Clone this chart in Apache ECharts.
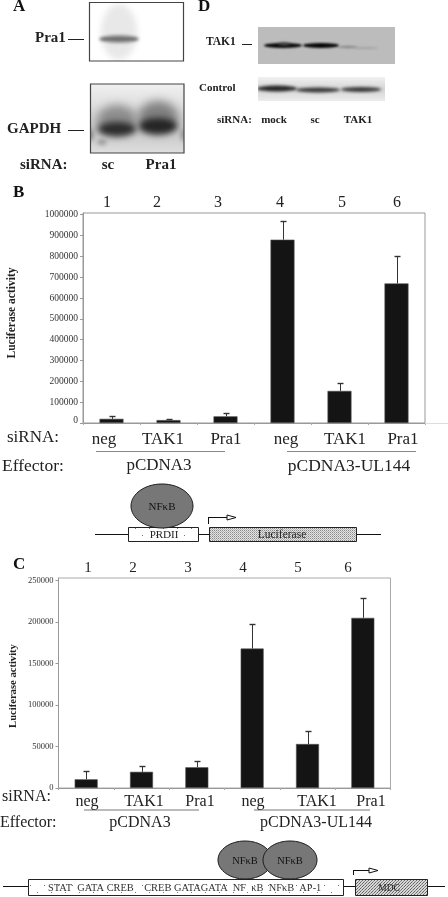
<!DOCTYPE html>
<html><head><meta charset="utf-8">
<style>html,body{margin:0;padding:0;background:#fff}#c{width:448px;height:897px}</style>
<script src="https://cdn.jsdelivr.net/npm/echarts@6/dist/echarts.min.js"></script>
</head><body><div id="c"></div>
<script>
const categories = ['1','2','3','4','5','6'];
const sirna = ['neg','TAK1','Pra1','neg','TAK1','Pra1'];
const valuesB = [20000,14000,32000,880000,154000,670000];
const errTopB = [35000,21000,50000,968000,194000,804000];
const ticksB = [0,100000,200000,300000,400000,500000,600000,700000,800000,900000,1000000];
const valuesC = [10500,19500,25000,168000,53000,205000];
const errTopC = [21000,26500,32000,197000,69000,229000];
const ticksC = [0,50000,100000,150000,200000,250000];

const SERIF = '"Liberation Serif"';
const chart = echarts.init(document.getElementById('c'), null, {renderer:'canvas'});

function pattern(size, draw, bg){
  const c = document.createElement('canvas'); c.width = c.height = size;
  const x = c.getContext('2d'); x.fillStyle = bg; x.fillRect(0,0,size,size); draw(x);
  return {image:c, repeat:'repeat'};
}
const dotted = pattern(2, x=>{x.fillStyle='#8a8a8a';x.fillRect(0,0,1,1);x.fillStyle='#b4b4b4';x.fillRect(1,1,1,1);}, '#e4e4e4');
const hatch = pattern(3, x=>{x.fillStyle='#666';x.fillRect(0,0,1,1);x.fillRect(2,1,1,1);x.fillStyle='#888';x.fillRect(1,2,1,1);}, '#d6d6d6');
const sparse = pattern(14, x=>{x.fillStyle='#777';x.fillRect(2,3,1,1);x.fillRect(9,10,1,1);}, '#ffffff');

// Gel photographs: soft blurred raster patches placed as images
function blot(x,y,w,h,bg,marks,z=10){
  const c=document.createElement('canvas'); c.width=w; c.height=h;
  const g=c.getContext('2d');
  if(Array.isArray(bg)){const lg=g.createLinearGradient(0,0,0,h);bg.forEach(s=>lg.addColorStop(s[0],s[1]));g.fillStyle=lg;}
  else g.fillStyle=bg;
  g.fillRect(0,0,w,h);
  marks.forEach(m=>{
    g.filter=`blur(${m[5]}px)`; g.fillStyle=m[4];
    g.beginPath(); g.ellipse(m[0]-x,m[1]-y,m[2],m[3],0,0,Math.PI*2); g.fill();
  });
  g.filter='none';
  return {type:'image',z,style:{image:c,x,y,width:w,height:h}};
}

const T = (text,x,y,o={}) => ({type:'text',z:o.z||20,x,y,rotation:o.rot||0,style:{
  text,x:0,y:0,fill:o.color||'#222',align:o.align||'left',verticalAlign:'middle',
  font:`${o.bold?'bold ':''}${o.size||13}px ${o.family||SERIF}`}});
const L = (x1,y1,x2,y2,c='#333',w=1,z=15) => ({type:'line',z,shape:{x1,y1,x2,y2},style:{stroke:c,lineWidth:w}});
const R = (x,y,w,h,fill,stroke,o={}) => ({type:'rect',z:o.z||10,shape:{x,y,width:w,height:h},style:{
  fill,stroke:stroke||null,lineWidth:o.lw===undefined?1:o.lw}});
const E = (cx,cy,rx,ry,z=12) => ({type:'ellipse',z,shape:{cx,cy,rx,ry},style:{fill:'#777',stroke:'#1c1c1c',lineWidth:1}});

const numXB=[107,157,218,280,342,397], numXC=[88,133,188,243,298,348];
const sirXB=[104,163,226,286,345,403], sirXC=[87,144,200,253,317,371];

const els = [
  // Panel letters
  T('A',13,7,{bold:1,size:17,color:'#111'}), T('D',198,7,{bold:1,size:17,color:'#111'}),
  T('B',13,193,{bold:1,size:17,color:'#111'}), T('C',13,565,{bold:1,size:17,color:'#111'}),

  // Panel A top blot
  blot(90,3,93,58,'#ffffff',[
    [119,32,18,28,'#e8e8e8',3],
    [119,39,20,4,'#8e8e8e',1.5],
    [119,39,18,1.2,'#666',1]
  ]),
  R(89.5,2.5,94,58.5,'rgba(0,0,0,0)','#444',{z:14,lw:1.2}),
  T('Pra1',35,38,{bold:1,size:15}), L(68,39.5,84,39.5,'#222',1),

  // Panel A bottom blot
  blot(91,84,93,69,[[0,'#f0f0f0'],[.3,'#e0e0e0'],[.65,'#c4c4c4'],[1,'#dedede']],[
    [117,120,20,15,'#8c8c8c',5],
    [158,117,20,16,'#808080',5],
    [117,129,19,7,'#2b2b2b',3],
    [158,126,19,8,'#252525',3],
    [91,135,2,6,'#777',2],[183,135,2,6,'#888',2],
    [102,142,5,3,'#999',2]
  ]),
  R(90.5,84,93.5,69,'rgba(0,0,0,0)','#444',{lw:1.2,z:14}),
  T('GAPDH',7,129,{bold:1,size:15}), L(68,130.5,84,130.5,'#222',1),
  T('siRNA:',20,165,{bold:1,size:15}),
  T('sc',108,165,{bold:1,size:15,align:'center'}), T('Pra1',161,165,{bold:1,size:15,align:'center'}),

  // Panel D blots
  blot(258,27,137,37,'#bcbcbc',[
    [283,45.5,19,2.4,'#060606',1],
    [321,45.5,18,2.4,'#060606',1],
    [284,44,6,1.5,'#555',1.5],
    [348,47,10,1.2,'#888',1],
    [366,48,12,.7,'#9a9a9a',.8]
  ]),
  T('TAK1',206,42,{bold:1,size:11.5}), L(242,44.5,252,44.5,'#222',1),
  blot(258,77,127,24,[[0,'#f1f1f1'],[.5,'#d4d4d4'],[1,'#ececec']],[
    [277,88.5,20,3,'#262626',1.5],
    [318,90,22,2.4,'#3a3a3a',1.5],
    [361,89.5,20,2.4,'#3a3a3a',1.5]
  ]),
  T('Control',199,88,{bold:1,size:11}),
  T('siRNA:',217,120,{bold:1,size:11}),
  T('mock',274,120,{bold:1,size:11,align:'center'}), T('sc',315,120,{bold:1,size:11,align:'center'}), T('TAK1',358,120,{bold:1,size:11,align:'center'}),

  // Panel B annotations
  T('Luciferase activity',12,313,{bold:1,size:11.5,rot:Math.PI/2,align:'center'}),
  L(425,423.5,448,423.5,'#ddd',1),
  T('siRNA:',7,438,{size:17}), T('Effector:',2,466,{size:17.5}),
  L(96,451.5,225,451.5,'#888',1), L(287,451.5,416,451.5,'#888',1),
  T('pCDNA3',159,466,{size:17,align:'center'}), T('pCDNA3-UL144',349,466,{size:17.5,align:'center'}),
  // Panel B diagram
  L(95,534.5,381,534.5,'#111',1,8),
  E(162,506,31,22), T('NF\u03baB',162,507,{size:11,align:'center',color:'#111'}),
  R(128.5,527.5,70,14,sparse,'#222',{z:10}), T('PRDII',164,535,{size:11,align:'center'}),
  R(209.5,527.5,147,14,dotted,'#222',{z:10}), T('Luciferase',282,535,{size:11.5,align:'center'}),
  L(208.5,524,208.5,517.5,'#111',1), L(208,517.5,228,517.5,'#111',1),
  {type:'polygon',z:15,shape:{points:[[227,515],[236,517.5],[227,520]]},style:{fill:'#fff',stroke:'#111',lineWidth:1}},

  // Panel C annotations
  T('Luciferase activity',13,686,{bold:1,size:10.6,rot:Math.PI/2,align:'center'}),
  T('siRNA:',2,797,{size:16}), T('Effector:',0,823,{size:16}),
  L(84,810,199,810,'#bbb',2), L(254,810,370,810,'#bbb',2),
  T('pCDNA3',140,823,{size:16,align:'center'}), T('pCDNA3-UL144',316,823,{size:16,align:'center'}),
  // Panel C diagram
  L(3,886.5,445,886.5,'#111',1,8),
  E(245,860,27,19,12), E(290,860,27,19,13),
  T('NF\u03baB',245,861,{size:10.5,align:'center',color:'#111'}), T('NF\u03baB',290,861,{size:10.5,align:'center',color:'#111'}),
  R(28.5,879.5,315,16,sparse,'#222',{z:10}),
  T('STAT  GATA CREB    CREB GATAGATA  NF  \u03baB  NF\u03baB  AP-1',48,888,{size:10.4,color:'#333'}),
  R(355.5,879.5,72,16,hatch,'#222',{z:10}), T('MDC',389,888,{size:9.5,align:'center'}),
  L(353.5,875,353.5,870.5,'#111',1), L(353,870.5,370,870.5,'#111',1),
  {type:'polygon',z:15,shape:{points:[[369,868],[378,870.5],[369,873]]},style:{fill:'#fff',stroke:'#111',lineWidth:1}}
];
categories.forEach((c,i)=>{
  els.push(T(c,numXB[i],203,{size:16,align:'center'}));
  els.push(T(c,numXC[i],568,{size:15,align:'center'}));
  els.push(T(sirna[i],sirXB[i],440,{size:17,align:'center'}));
  els.push(T(sirna[i],sirXC[i],802,{size:16,align:'center'}));
});

const errSeries = (idx,vals,tops) => ({
  type:'custom',xAxisIndex:idx,yAxisIndex:idx,z:4,silent:true,
  data:tops.map((t,i)=>[i,vals[i],t]),
  renderItem:(p,api)=>{
    const a=api.coord([api.value(0),api.value(1)]), b=api.coord([api.value(0),api.value(2)]);
    const x=Math.round(a[0])+.5, y=Math.round(b[1])+.5;
    return {type:'group',children:[
      {type:'line',shape:{x1:x,y1:a[1],x2:x,y2:y},style:{stroke:'#333',lineWidth:1}},
      {type:'line',shape:{x1:x-3,y1:y,x2:x+3,y2:y},style:{stroke:'#333',lineWidth:1.4}}
    ]};
  }
});
const barSeries = (idx,vals,w) => ({
  type:'bar',xAxisIndex:idx,yAxisIndex:idx,data:vals,barWidth:w,z:3,
  itemStyle:{color:'#141414',borderColor:'#555',borderWidth:.6},silent:true
});
const yAx = (idx,max,ticks,size) => ({
  type:'value',gridIndex:idx,min:0,max,splitLine:{show:false},
  axisLine:{show:true,lineStyle:{color:'#999'}},
  axisTick:{show:true,length:3,inside:false,lineStyle:{color:'#999'},customValues:ticks},
  axisLabel:{customValues:ticks,margin:5,color:'#333',fontFamily:SERIF,fontSize:size,
    formatter:v=>(idx===0&&v===0)?'{z|0}':String(v),
    rich:{z:{padding:[0,0,6,0],fontFamily:SERIF,fontSize:size,color:'#333'}}}
});
const xAx = idx => ({
  type:'category',gridIndex:idx,data:categories,axisLabel:{show:false},
  axisLine:{lineStyle:{color:'#999'}},axisTick:{show:true,length:2,lineStyle:{color:'#aaa'}}
});

chart.setOption({
  animation:false,backgroundColor:'#fff',
  grid:[
    {left:83,right:23,top:213,bottom:474,show:true,borderColor:'#999',borderWidth:1,backgroundColor:'#fff'},
    {left:58.5,right:57.5,top:578,bottom:109,show:true,borderColor:'#aaa',borderWidth:1,backgroundColor:'#fff'}
  ],
  xAxis:[xAx(0),xAx(1)],
  yAxis:[yAx(0,1008000,ticksB,9.5),yAx(1,253000,ticksC,8.5)],
  series:[barSeries(0,valuesB,24),errSeries(0,valuesB,errTopB),barSeries(1,valuesC,23),errSeries(1,valuesC,errTopC)],
  graphic:{elements:els}
});
</script></body></html>
